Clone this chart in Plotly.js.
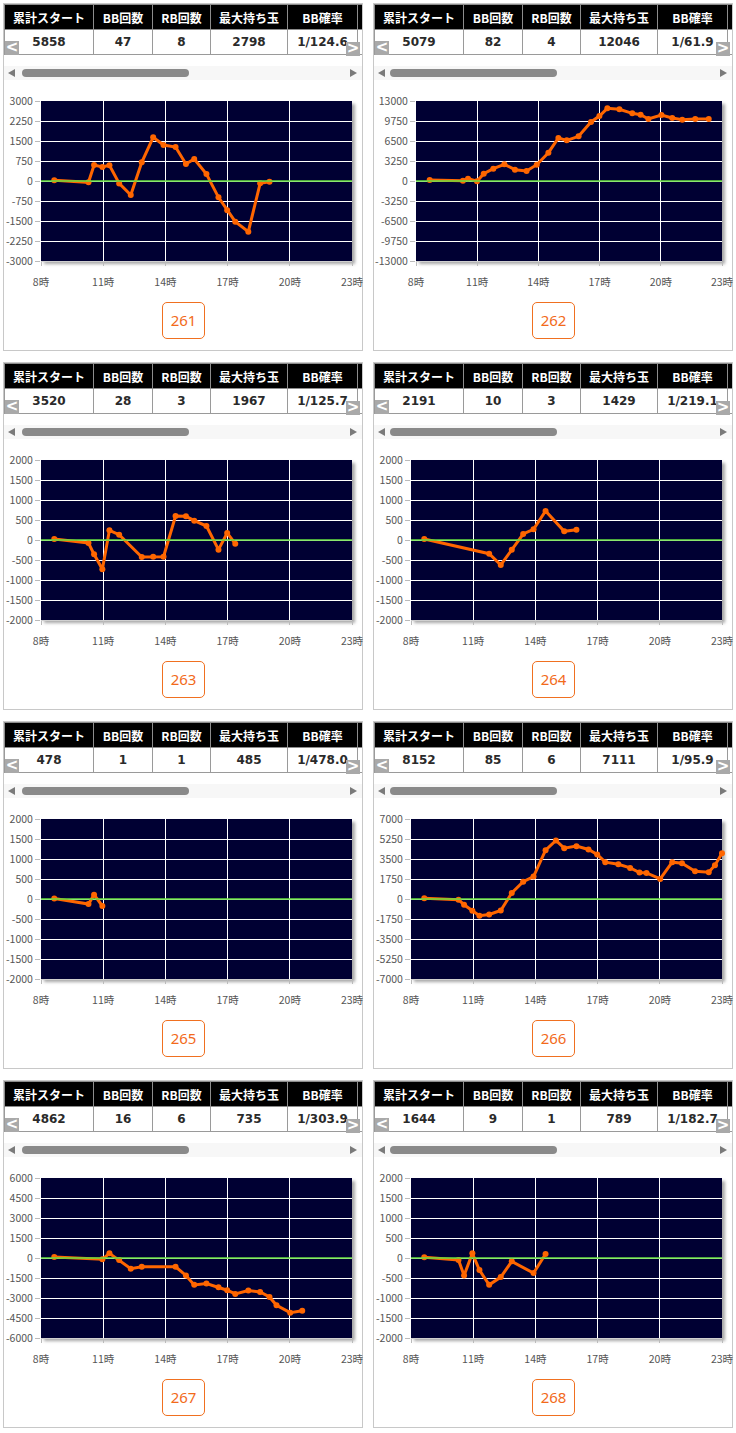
<!DOCTYPE html>
<html><head><meta charset="utf-8">
<script src="https://cdn.plot.ly/plotly-3.0.1.min.js"></script>
<style>
html,body{margin:0;padding:0;background:#fff;}
body{width:736px;height:1433px;position:relative;overflow:hidden;font-family:"Noto Sans CJK JP","Noto Sans",sans-serif;}
.panel{position:absolute;width:360px;height:348px;box-sizing:border-box;border:1px solid #c8c8c8;overflow:visible;background:#fff;}
.twrap{position:absolute;left:0;top:0;width:358px;height:52px;overflow:hidden;}
table.dt{position:absolute;left:0;top:0;border-collapse:collapse;table-layout:fixed;width:436px;}
table.dt th{background:#000;color:#fff;font-weight:bold;font-size:12px;height:24px;padding:0;border:1px solid #8c8c8c;text-align:center;white-space:nowrap;overflow:hidden;}
table.dt td{background:#fff;color:#2a2a2a;font-family:"DejaVu Sans",sans-serif;font-weight:bold;font-size:12px;height:24px;padding:0;border:1px solid #9a9a9a;text-align:center;white-space:nowrap;overflow:hidden;}
.nav{position:absolute;width:14px;height:14px;background:#a9a9a9;color:#fff;font:bold 15px/13px "DejaVu Sans",sans-serif;text-align:center;}
.sbar{position:absolute;left:0;top:62px;width:358px;height:14px;background:#f7f7f7;}
.sthumb{position:absolute;top:3px;height:8px;border-radius:4px;background:#8a8a8a;}
.tri{position:absolute;top:3px;width:0;height:0;border-top:4px solid transparent;border-bottom:4px solid transparent;}
.shadow{position:absolute;box-shadow:3px 3px 3px rgba(0,0,0,0.35);background:#000033;}
.plot{position:absolute;left:0;top:87px;width:372px;height:210px;}
.btn{position:absolute;left:158px;top:298px;width:43px;height:37px;box-sizing:border-box;border:1px solid #f07020;border-radius:5px;color:#f26a1b;font:15px/35px "Noto Sans",sans-serif;text-align:center;}
</style>
</head><body>
<script>
// ---- table data ----
const headerLabels = ['累計スタート','BB回数','RB回数','最大持ち玉','BB確率','RB確率'];
const machineNo = ['261','262','263','264','265','266','267','268'];
const totalStart = [5858,5079,3520,2191,478,8152,4862,1644];
const bbCount = [47,82,28,10,1,85,16,9];
const rbCount = [8,4,3,3,1,6,6,1];
const maxHeld = [2798,12046,1967,1429,485,7111,735,789];
const bbProb = ['1/124.6','1/61.9','1/125.7','1/219.1','1/478.0','1/95.9','1/303.9','1/182.7'];
const rbProb = ['1/732.3','1/1269.8','1/1173.3','1/730.3','1/478.0','1/1358.7','1/810.3','1/644.0'];

// ---- chart axes ----
const xTickVals = [8,11,14,17,20,23];
const xTickText = ['8時','11時','14時','17時','20時','23時'];
const yMax = [3000,13000,2000,2000,2000,7000,6000,2000];

// ---- series (hour, balls) ----
const t261 = [8.64,10.29,10.56,10.96,11.30,11.77,12.33,12.86,13.41,13.91,14.49,14.99,15.39,15.98,16.56,16.98,17.37,18.00,18.57,19.02];
const v261 = [30,-50,600,525,590,-90,-525,700,1640,1350,1275,640,825,262,-612,-1100,-1525,-1900,-88,-25];
const t262 = [8.67,10.30,10.55,10.99,11.32,11.79,12.33,12.85,13.42,13.92,14.49,14.98,15.39,15.97,16.58,16.99,17.38,17.97,18.60,19.01,19.39,20.03,20.56,21.05,21.69,22.35];
const v262 = [150,50,380,-50,1190,2000,2710,1840,1625,2650,4600,6990,6610,7260,9590,10560,11810,11650,11000,10780,10075,10725,10240,9970,10075,10075];
const t263 = [8.64,10.29,10.56,10.96,11.30,11.77,12.86,13.41,13.91,14.49,14.99,15.39,15.98,16.56,16.98,17.37];
const v263 = [25,-75,-358,-733,242,133,-425,-417,-417,600,592,483,350,-242,175,-92];
const t264 = [8.64,11.77,12.33,12.86,13.41,13.91,14.49,15.39,15.98];
const v264 = [25,-342,-625,-242,150,267,725,217,258];
const t265 = [8.64,10.29,10.56,10.96];
const v265 = [10,-125,108,-175];
const t266 = [8.64,10.29,10.56,10.96,11.30,11.77,12.33,12.86,13.41,13.91,14.49,14.99,15.39,15.98,16.56,16.98,17.37,18.00,18.57,19.02,19.36,20.02,20.60,21.07,21.70,22.36,22.66,23.0];
const v266 = [60,-60,-500,-1025,-1465,-1350,-1000,527,1520,1960,4275,5125,4450,4625,4335,3895,3220,3045,2720,2310,2280,1755,3220,3135,2430,2340,2960,4010];
const t267 = [8.64,10.96,11.30,11.77,12.33,12.86,14.49,14.99,15.39,15.98,16.56,16.98,17.37,18.00,18.57,19.02,19.36,20.02,20.60];
const v267 = [75,-100,350,-150,-805,-655,-655,-1310,-2015,-1913,-2190,-2416,-2693,-2441,-2542,-2920,-3549,-4102,-3950];
const t268 = [8.64,10.29,10.56,10.96,11.30,11.77,12.33,12.86,13.91,14.49];
const v268 = [17,-50,-436,117,-302,-671,-478,-84,-378,100];

const seriesT = [t261,t262,t263,t264,t265,t266,t267,t268];
const seriesV = [v261,v262,v263,v264,v265,v266,v267,v268];

// ---- layout geometry ----
const panelLeft = [3,373];
const panelTop = [3,362,721,1080];

for (let i = 0; i < machineNo.length; i++) {
  const col = i % 2, row = Math.floor(i / 2);
  const p = document.createElement('div');
  p.className = 'panel';
  p.style.left = panelLeft[col] + 'px';
  p.style.top = panelTop[row] + 'px';
  document.body.appendChild(p);

  const widths = [89,59,58,77,70,83];
  let html = '<div class="twrap"><table class="dt"><colgroup>' + widths.map(w => '<col style="width:' + w + 'px">').join('') + '</colgroup><tr>';
  html += headerLabels.map(h => '<th>' + h + '</th>').join('') + '</tr><tr>';
  const vals = [totalStart[i], bbCount[i], rbCount[i], maxHeld[i], bbProb[i], rbProb[i]];
  html += vals.map(v => '<td>' + v + '</td>').join('') + '</tr></table></div>';
  html += '<div class="nav" style="left:1px;top:37px;">&lt;</div>';
  html += '<div class="nav" style="left:342px;top:38px;">&gt;</div>';
  html += '<div class="sbar"><div class="tri" style="left:4px;border-right:7px solid #7a7a7a;"></div>' +
          '<div class="sthumb" style="left:' + (col ? 16 : 18) + 'px;width:167px;"></div>' +
          '<div class="tri" style="left:346px;border-left:7px solid #7a7a7a;"></div></div>';
  const lMargin = (yMax[i] >= 10000) ? 42 : 37;
  html += '<div class="shadow" style="left:' + lMargin + 'px;top:97px;width:' + (348 - lMargin) + 'px;height:160px;"></div>';
  html += '<div class="plot" id="plot' + i + '"></div>';
  html += '<div class="btn">' + machineNo[i] + '</div>';
  p.innerHTML = html;

  const ym = yMax[i];
  const yTickVals = [], yTickText = [];
  for (let k = -4; k <= 4; k++) { yTickVals.push(ym * k / 4); yTickText.push(String(ym * k / 4)); }

  const trace = {
    x: seriesT[i], y: seriesV[i], type: 'scatter', mode: 'lines+markers',
    line: {color: '#ff6600', width: 3},
    marker: {color: '#ff6600', size: 6},
    hoverinfo: 'skip', showlegend: false, cliponaxis: false
  };
  const layout = {
    width: 372, height: 210,
    margin: {l: lMargin, r: 24, t: 10, b: 40, pad: 0},
    paper_bgcolor: 'rgba(0,0,0,0)', plot_bgcolor: '#000033',
    font: {family: '"Noto Sans CJK JP","Noto Sans",sans-serif', size: 11, color: '#555'},
    xaxis: {range: [8, 23], tickvals: xTickVals, ticktext: xTickText, showgrid: true, gridcolor: '#ffffff', gridwidth: 1,
            zeroline: false, ticks: 'outside', ticklen: 4, tickcolor: '#bbbbbb', showline: true, linecolor: '#d0d0d0',
            ticklabelstandoff: 7, ticklabeloverflow: 'allow',
            tickfont: {size: 10.5, color: '#555'}, fixedrange: true},
    yaxis: {range: [-ym, ym], tickvals: yTickVals, ticktext: yTickText, showgrid: true, gridcolor: '#ffffff', gridwidth: 1,
            zeroline: false, ticks: 'outside', ticklen: 5, tickcolor: '#bbbbbb', showline: false,
            ticklabeloverflow: 'allow',
            tickfont: {size: 10.5, color: '#555'}, fixedrange: true},
    shapes: [{type: 'line', xref: 'paper', x0: 0, x1: 1, yref: 'y', y0: 0, y1: 0, layer: 'above', opacity: 0.75,
              line: {color: '#66e040', width: 2}}]
  };
  Plotly.newPlot('plot' + i, [trace], layout, {staticPlot: true, displayModeBar: false});
}
</script>
</body></html>
